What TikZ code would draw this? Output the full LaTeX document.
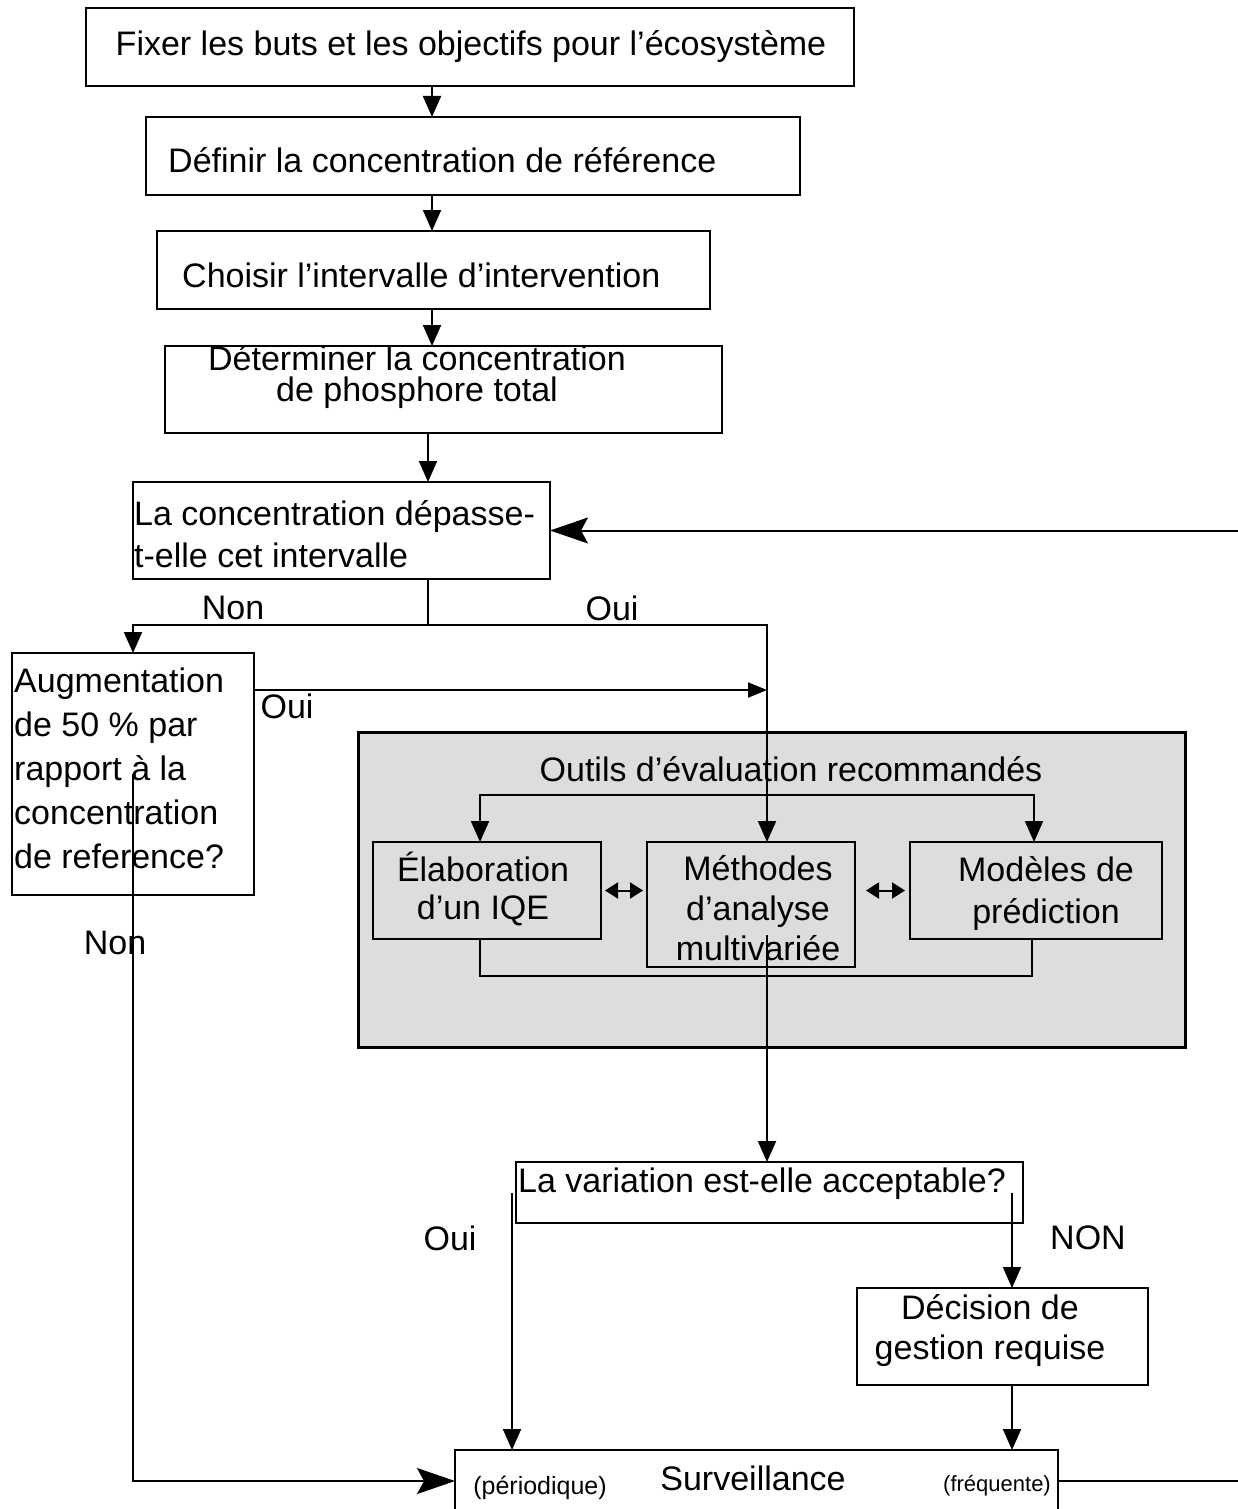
\documentclass[tikz,border=0pt]{standalone}
\usepackage{fontspec}
\setmainfont{Liberation Sans}
\usetikzlibrary{arrows.meta}
\definecolor{panelgray}{RGB}{221,221,221}
\begin{document}
\begin{tikzpicture}[x=1pt,y=-1pt,
  box/.style={draw,line width=2.2pt,inner sep=0pt,outer sep=0pt},
  panel/.style={draw,line width=3pt,fill=panelgray,inner sep=0pt,outer sep=0pt},
  lbl/.style={inner sep=0pt,font=\fontsize{34}{42}\selectfont},
  small/.style={inner sep=0pt,font=\fontsize{25}{30}\selectfont},
  wire/.style={line width=2pt},
  arr/.style={wire,-{Triangle[length=21pt,width=18pt]}},
  bigarr/.style={wire,-{Stealth[length=38pt,width=26pt,inset=7pt]}},
  dbl/.style={wire,{Triangle[length=13pt,width=16pt]}-{Triangle[length=13pt,width=16pt]}},
]
\fill[white] (0,0) rectangle (1237,1509);
\useasboundingbox (0,0) rectangle (1237,1509);

% boxes
\node[box,minimum width=768,minimum height=78] (b1) at (470,47) {};
\node[box,minimum width=654,minimum height=78] (b2) at (473,156) {};
\node[box,minimum width=553,minimum height=78] (b3) at (433.5,270) {};
\node[box,minimum width=557,minimum height=87] (b4) at (443.5,389.5) {};
\node[box,minimum width=417,minimum height=97] (b5) at (341.5,530.5) {};
\node[box,minimum width=242,minimum height=242] (b6) at (133,774) {};
\node[panel,minimum width=827,minimum height=315] (tools) at (771.5,889.5) {};
\node[box,minimum width=228,minimum height=97] (el) at (487,890.5) {};
\node[box,minimum width=208,minimum height=125] (me) at (751,904.5) {};
\node[box,minimum width=252,minimum height=97] (mo) at (1036,890.5) {};
\node[box,minimum width=507,minimum height=61] (va) at (769.5,1192.5) {};
\node[box,minimum width=291,minimum height=97] (de) at (1002.5,1336.5) {};
\node[box,minimum width=603,minimum height=62] (su) at (756.5,1481) {};

% box texts
\node[lbl] (t1) at (471,47) {Fixer les buts et les objectifs pour l’écosystème};
\node[lbl,anchor=west] (t2) at (168,160) {Définir la concentration de référence};
\node[lbl,anchor=west] (t3) at (182,275) {Choisir l’intervalle d’intervention};
\node[lbl,align=center,font=\fontsize{34}{31}\selectfont] (t4) at (417,377) {Déterminer la concentration\\de phosphore total};
\node[lbl,anchor=west,align=left] (t5) at (134,534) {La concentration dépasse-\\t-elle cet intervalle};
\node[lbl,anchor=west,align=left,font=\fontsize{34}{44}\selectfont] (t6) at (14,768) {Augmentation\\de 50 \% par\\rapport à la\\concentration\\de reference?};
\node[lbl] (t7) at (791,769) {Outils d’évaluation recommandés};
\node[lbl,align=center,font=\fontsize{34}{38}\selectfont] (t8) at (483,889) {Élaboration\\d’un IQE};
\node[lbl,align=center,font=\fontsize{34}{40}\selectfont] (t9) at (758,908) {Méthodes\\d’analyse\\multivariée};
\node[lbl,align=center] (t10) at (1046,893) {Modèles de\\prédiction};
\node[lbl,anchor=west] (t11) at (518,1184) {La variation est-elle acceptable?};
\node[lbl,align=center,font=\fontsize{34}{40}\selectfont] (t12) at (990,1330) {Décision de\\gestion requise};
\node[lbl] (t13) at (753,1478) {Surveillance};
\node[small] (t14) at (540,1488) {(périodique)};
\node[small,font=\fontsize{22}{28}\selectfont] (t15) at (997,1486) {(fréquente)};

% branch labels
\node[lbl] (n1) at (233,608) {Non};
\node[lbl] (o1) at (612,608) {Oui};
\node[lbl] (o2) at (287,706) {Oui};
\node[lbl] (n2) at (115,943) {Non};
\node[lbl] (o3) at (450,1238) {Oui};
\node[lbl] (n3) at (1088,1238) {NON};

% column references
\coordinate (c432) at (432,0);
\coordinate (c428) at (428,0);
\coordinate (c767) at (767,0);
\coordinate (c480) at (480,0);
\coordinate (c1034) at (1034,0);
\coordinate (c1032) at (1032,0);
\coordinate (c512) at (512,0);
\coordinate (c1012) at (1012,0);

% main chain
\draw[arr] (b1.south -| c432) -- (b2.north -| c432);
\draw[arr] (b2.south -| c432) -- (b3.north -| c432);
\draw[arr] (b3.south -| c432) -- (b4.north -| c432);
\draw[arr] (b4.south -| c428) -- (b5.north -| c428);

% decision on the interval
\coordinate (split) at (428,625);
\draw[wire] (b5.south -| c428) -- (split);
\draw[arr] (split) -| (b6.north);
\draw[arr] (split) -| (me.north -| c767);
\coordinate (join) at (767,690);
\draw[wire,-{Triangle[length=19pt,width=15pt]}] (b6.east |- join) -- (join);
\draw[bigarr] (b6.center) |- (su.west);

% assessment tools
\coordinate (dist) at (757,795);
\draw[arr] (dist) -| (el.north -| c480);
\draw[arr] (dist) -| (mo.north -| c1034);
\coordinate (coll) at (757,976);
\draw[wire] (el.south -| c480) |- (coll) -| (mo.south -| c1032);
\draw[dbl,shorten <=4pt,shorten >=4pt] (el.east) -- (el.east -| me.west);
\draw[dbl,shorten <=11pt,shorten >=5pt] (me.east |- mo.west) -- (mo.west);
\coordinate (mvstart) at (767,935);
\draw[arr] (mvstart) -- (va.north -| c767);

% outcome
\draw[arr] (va.west -| c512) -- (su.north -| c512);
\draw[arr] (va.east -| c1012) -- (de.north -| c1012);
\draw[arr] (de.south -| c1012) -- (su.north -| c1012);

% monitoring loops back to the interval test
\draw[bigarr] (su.east) -- ++(187,0) |- (b5.east);
\end{tikzpicture}
\end{document}
